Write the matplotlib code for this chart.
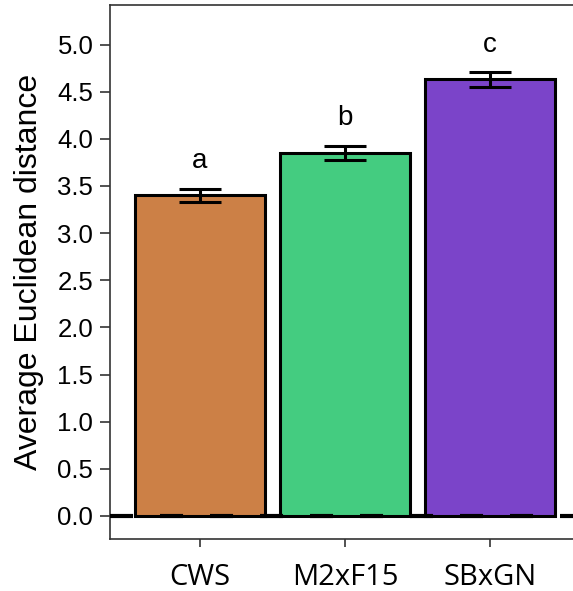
import matplotlib
matplotlib.use('Agg')
import matplotlib.pyplot as plt

groups = ['CWS', 'M2xF15', 'SBxGN']
means = [3.40, 3.85, 4.63]
errors = [0.07, 0.075, 0.075]
letters = ['a', 'b', 'c']
colors = ['#CC8046', '#44CC80', '#7B44C9']
yticks = [0.0, 0.5, 1.0, 1.5, 2.0, 2.5, 3.0, 3.5, 4.0, 4.5, 5.0]

plt.rcParams['lines.scale_dashes'] = False

fig = plt.figure(figsize=(5.73, 5.91), dpi=100)
ax = fig.add_axes([0.192, 0.088, 0.808, 0.9035])

x = list(range(len(groups)))
ax.bar(x, means, width=0.9, color=colors, edgecolor='black', linewidth=2.2, zorder=2)
ax.errorbar(x, means, yerr=errors, fmt='none', ecolor='black', elinewidth=2.2,
            capsize=15, capthick=2.2, zorder=3)

# dashed zero line
ax.axhline(0, color='black', linewidth=3.0, linestyle=(0, (16.6, 19.4)), zorder=4)

for xi, m, e, lab in zip(x, means, errors, letters):
    ax.text(xi, m + e + 0.22, lab, ha='center', va='baseline', fontsize=20,
            family='Liberation Sans')

ax.set_xlim(-0.62, 2.572)
ax.set_ylim(-0.245, 5.42)
ax.set_yticks(yticks)
ax.set_yticklabels(['%.1f' % t for t in yticks], family='Liberation Sans', fontsize=18.5)
ax.set_xticks(x)
ax.set_xticklabels(groups, family='Open Sans', fontsize=21)
ax.tick_params(axis='y', length=7, width=1.2, pad=5, colors='#333333', labelcolor='black')
ax.tick_params(axis='x', length=6, width=1.2, pad=11, colors='#333333', labelcolor='black')

ax.spines['right'].set_visible(False)
for s in ['left', 'bottom', 'top']:
    ax.spines[s].set_color('#333333')
    ax.spines[s].set_linewidth(1.2)

ax.set_ylabel('Average Euclidean distance', family='Liberation Sans', fontsize=23, labelpad=10)

fig.savefig('out.png', dpi=100)
